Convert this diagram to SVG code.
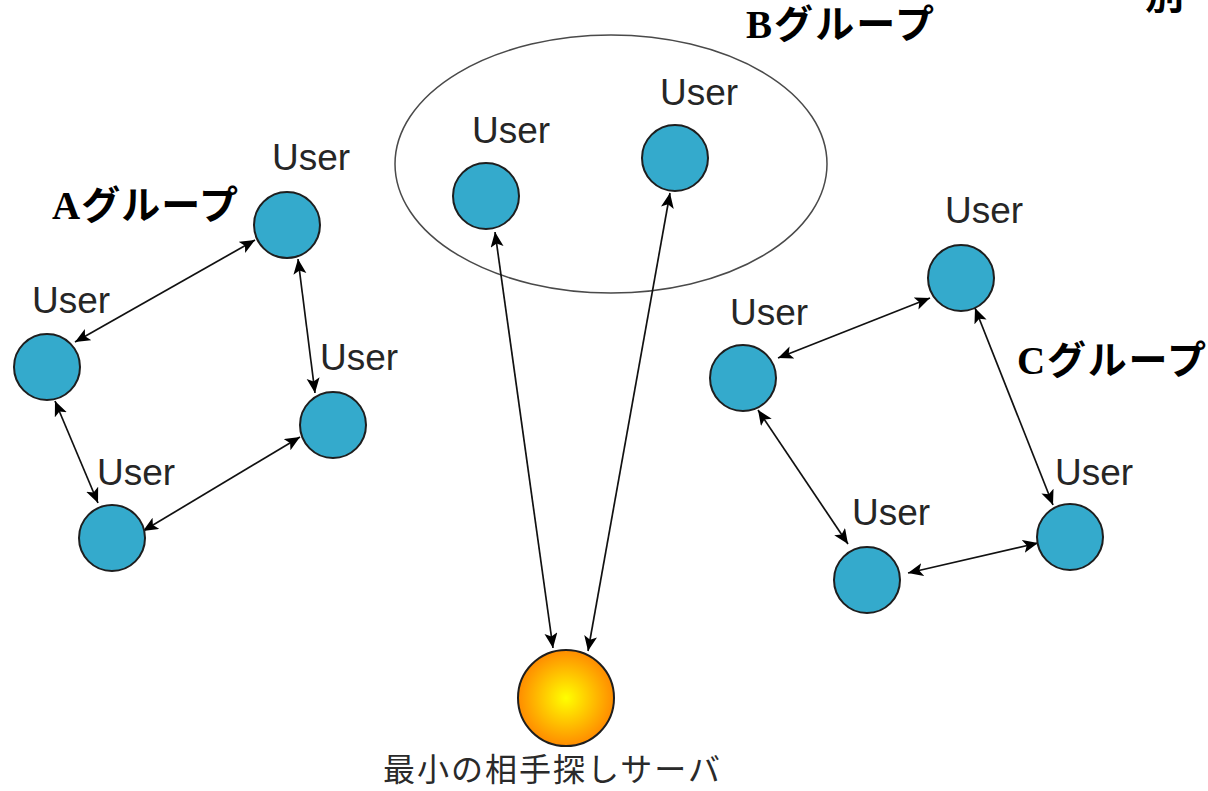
<svg xmlns="http://www.w3.org/2000/svg" width="1208" height="791" viewBox="0 0 1208 791">
  <style>
    .user { fill: #34aacc; stroke: #1e1e1e; stroke-width: 2; }
    .lbl { font-family: "Liberation Sans", "Noto Sans", sans-serif; font-size: 37px; fill: #262626; }
    .grp { font-family: "Liberation Serif", "Noto Sans CJK JP", serif; font-weight: bold; font-size: 39px; fill: #000; }
    .srv-lbl { font-family: "Noto Sans CJK JP", sans-serif; font-size: 32px; fill: #2a2a2a; }
    .link { stroke: #111; stroke-width: 1.7; fill: none; marker-start: url(#head); marker-end: url(#head); }
  </style>
  <defs>
    <marker id="head" markerUnits="userSpaceOnUse" markerWidth="16" markerHeight="14" refX="15" refY="6.5" orient="auto-start-reverse">
      <path d="M0,0 L15,6.5 L0,13 L3.5,6.5 z" fill="#000"/>
    </marker>
    <radialGradient id="sun" cx="50%" cy="50%" r="50%">
      <stop offset="0" stop-color="#ffff00"/>
      <stop offset="1" stop-color="#ff8c00"/>
    </radialGradient>
  </defs>

  <rect width="1208" height="791" fill="#fff"/>

  <!-- heading running off the top right edge -->
  <text class="grp" x="1145" y="9" font-size="40">別</text>

  <!-- group B boundary -->
  <ellipse cx="611" cy="164" rx="216" ry="129" fill="none" stroke="#4a4a4a" stroke-width="1.5"/>

  <!-- group titles -->
  <text class="grp" x="52" y="219" textLength="186" lengthAdjust="spacing">Aグループ</text>
  <text class="grp" x="746" y="38" textLength="188" lengthAdjust="spacing">Bグループ</text>
  <text class="grp" x="1017" y="374" textLength="189" lengthAdjust="spacing">Cグループ</text>

  <!-- connectors -->
  <g id="connectors">
    <!-- group A -->
    <line class="link" x1="255" y1="240" x2="75" y2="342"/>
    <line class="link" x1="298" y1="259" x2="315" y2="393"/>
    <line class="link" x1="55" y1="401" x2="98" y2="503"/>
    <line class="link" x1="143" y1="531" x2="300" y2="437"/>
    <!-- group B to server -->
    <line class="link" x1="495" y1="232" x2="553" y2="648"/>
    <line class="link" x1="670" y1="193" x2="588" y2="651"/>
    <!-- group C -->
    <line class="link" x1="930" y1="298" x2="778" y2="358"/>
    <line class="link" x1="975" y1="308" x2="1053" y2="505"/>
    <line class="link" x1="758" y1="410" x2="848" y2="544"/>
    <line class="link" x1="908" y1="573" x2="1038" y2="543"/>
  </g>

  <!-- group A users -->
  <g id="a-top"><text class="lbl" x="272" y="170">User</text><circle class="user" cx="287" cy="225" r="33"/></g>
  <g id="a-left"><text class="lbl" x="32" y="313">User</text><circle class="user" cx="47" cy="367" r="33"/></g>
  <g id="a-right"><text class="lbl" x="320" y="370">User</text><circle class="user" cx="333" cy="425" r="33"/></g>
  <g id="a-bottom"><text class="lbl" x="97" y="485">User</text><circle class="user" cx="112" cy="538" r="33"/></g>

  <!-- group B users -->
  <g id="b-left"><text class="lbl" x="472" y="143">User</text><circle class="user" cx="486" cy="196" r="33"/></g>
  <g id="b-right"><text class="lbl" x="660" y="105">User</text><circle class="user" cx="675" cy="158" r="33"/></g>

  <!-- group C users -->
  <g id="c-top"><text class="lbl" x="945" y="223">User</text><circle class="user" cx="961" cy="278" r="33"/></g>
  <g id="c-left"><text class="lbl" x="730" y="325">User</text><circle class="user" cx="743" cy="378" r="33"/></g>
  <g id="c-right"><text class="lbl" x="1055" y="485">User</text><circle class="user" cx="1070" cy="537" r="33"/></g>
  <g id="c-bottom"><text class="lbl" x="852" y="525">User</text><circle class="user" cx="867" cy="580" r="33"/></g>

  <!-- matchmaking server -->
  <g id="server">
    <circle cx="566" cy="698" r="48" fill="url(#sun)" stroke="#1e1e1e" stroke-width="2"/>
    <text class="srv-lbl" x="383" y="781" textLength="337" lengthAdjust="spacing">最小の相手探しサーバ</text>
  </g>
</svg>
